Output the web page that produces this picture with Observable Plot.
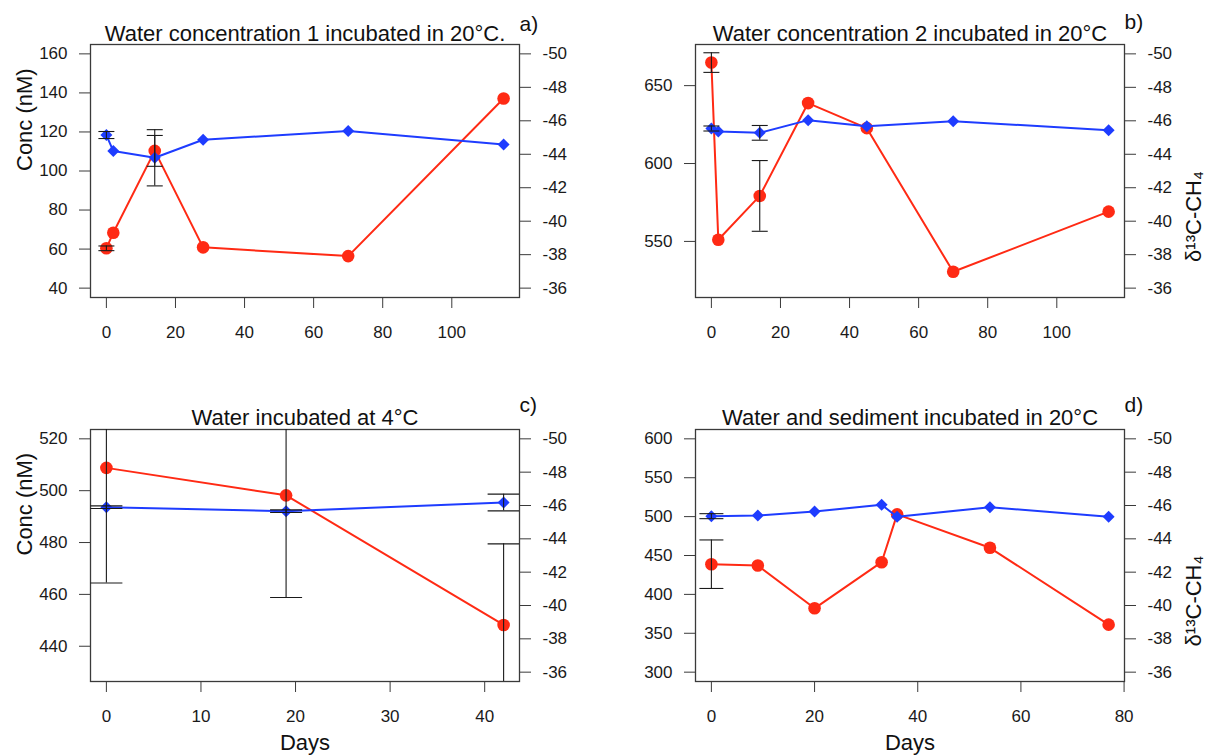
<!DOCTYPE html>
<html><head><meta charset="utf-8">
<script src="https://cdn.jsdelivr.net/npm/d3@7"></script>
<script src="https://cdn.jsdelivr.net/npm/@observablehq/plot@0.6"></script>
<style>
body{margin:0;background:#fff;}
#chart{position:relative;width:1209px;height:755px;overflow:hidden;font-family:"Liberation Sans",Arial,sans-serif;}
#chart svg{position:absolute;}
</style></head><body><div id="chart"></div>
<script>
// ---- Data ----
const titles = ["Water concentration 1 incubated in 20°C.", "Water concentration 2 incubated in 20°C", "Water incubated at 4°C", "Water and sediment incubated in 20°C"];
const panelTags = ["a)", "b)", "c)", "d)"];
const concLabel = "Conc (nM)";
const d13cLabel = "δ¹³C-CH₄";
const daysLabel = "Days";

const daysA = [0, 2, 14, 28, 70, 115];
const concA = [60.4, 68.4, 110.3, 60.9, 56.4, 137.1];
const concErrA = [1.2, null, 7.9, null, null, null];
const d13cA = [-45.15, -44.19, -43.79, -44.87, -45.39, -44.59];
const d13cErrA = [0.21, null, 1.68, null, null, null];

const daysB = [0, 2, 14, 28, 45, 70, 115];
const concB = [664.8, 551.1, 579.2, 638.8, 622.7, 530.5, 569.1];
const concErrB = [6.3, null, 22.7, null, null, null, null];
const d13cB = [-45.54, -45.36, -45.28, -46.04, -45.68, -45.98, -45.44];
const d13cErrB = [0.15, null, 0.44, null, null, null, null];

const daysC = [0, 19, 42];
const concC = [508.8, 498.2, 448.2];
const concErrC = [44.4, 39.4, 31.3];
const d13cC = [-45.9, -45.66, -46.18];
const d13cErrC = [0.08, 0.08, 0.5];

const daysD = [0, 9, 20, 33, 36, 54, 77];
const concD = [438.8, 437.1, 382.1, 441.4, 502.9, 459.9, 361.1];
const concErrD = [31.2, null, null, null, null, null, null];
const d13cD = [-45.36, -45.40, -45.64, -46.04, -45.32, -45.90, -45.32];
const d13cErrD = [0.15, null, null, null, null, null, null];

const xTicksAB = [0, 20, 40, 60, 80, 100];
const xTicksC = [0, 10, 20, 30, 40];
const xTicksD = [0, 20, 40, 60, 80];
const yTicksA = [40, 60, 80, 100, 120, 140, 160];
const yTicksB = [550, 600, 650];
const yTicksC = [440, 460, 480, 500, 520];
const yTicksD = [300, 350, 400, 450, 500, 550, 600];
const d13cTicks = [-50, -48, -46, -44, -42, -40, -38, -36];

// ---- Styling ----
const RED = "#ff2a14", BLUE = "#1e3cff", INK = "#1a1a1a";
const capSymbol = w => ({draw(ctx) { ctx.moveTo(-w, 0); ctx.lineTo(w, 0); }});

function panel(o) {
  const d13cDomain = [-35.44, -50.56];
  const toY = d3.scaleLinear().domain(d13cDomain).range(o.yDomain);
  const red = o.days.map((x, i) => ({x, y: o.conc[i], e: o.concErr[i]}));
  const blue = o.days.map((x, i) => ({x, y: toY(o.d13c[i]), e: o.d13cErr[i], v: o.d13c[i]}));
  const redErr = red.filter(d => d.e != null).map(d => ({x: d.x, y1: d.y - d.e, y2: d.y + d.e}));
  const blueErr = blue.filter(d => d.e != null).map(d => ({x: d.x, y1: toY(d.v - d.e), y2: toY(d.v + d.e)}));
  const errs = redErr.concat(blueErr);
  const cap = capSymbol(o.cap);
  const marks = [
    Plot.frame({stroke: "#3a3a3a", strokeWidth: 1.3}),
    Plot.axisX(o.xTicks, {tickSize: 11, tickPadding: 17, label: null, stroke: "#3a3a3a"}),
    Plot.axisY(o.yTicks, {anchor: "left", tickSize: 11, tickPadding: 12, label: null, stroke: "#3a3a3a"}),
    Plot.axisY(d13cTicks.map(toY), {anchor: "right", tickSize: 11, tickPadding: 12, label: null, stroke: "#3a3a3a",
      tickFormat: v => String(Math.round(toY.invert(v)))}),
    Plot.line(red, {x: "x", y: "y", stroke: RED, strokeWidth: 2}),
    Plot.dot(red, {x: "x", y: "y", r: 6.3, fill: RED}),
    Plot.line(blue, {x: "x", y: "y", stroke: BLUE, strokeWidth: 2}),
    Plot.dot(blue, {x: "x", y: "y", r: 5.4, symbol: "diamond2", fill: BLUE}),
    Plot.ruleX(errs, {x: "x", y1: "y1", y2: "y2", stroke: INK, strokeWidth: 1.1, clip: true}),
    Plot.dot(errs, {x: "x", y: "y1", symbol: cap, stroke: INK, strokeWidth: 1.1, fill: "none", clip: true}),
    Plot.dot(errs, {x: "x", y: "y2", symbol: cap, stroke: INK, strokeWidth: 1.1, fill: "none", clip: true}),
    Plot.text([o.title], {frameAnchor: "top", dy: o.titleDy, fontSize: 22, fill: "#111", lineAnchor: "middle"}),
    Plot.text([o.tag], {frameAnchor: "top-right", textAnchor: "start", dx: o.tagDx, dy: o.tagDy, fontSize: 21, fill: "#111", lineAnchor: "middle"})
  ];
  if (o.concLabel) marks.push(Plot.text([concLabel], {frameAnchor: "left", dx: -66, rotate: -90, fontSize: 22, fill: "#111", lineAnchor: "middle"}));
  if (o.d13cLabel) marks.push(Plot.text([d13cLabel], {frameAnchor: "right", dx: 69, rotate: -90, fontSize: 22, fill: "#111", lineAnchor: "middle"}));
  if (o.daysLabel) marks.push(Plot.text([daysLabel], {frameAnchor: "bottom", dy: 61, fontSize: 22, fill: "#111", lineAnchor: "middle"}));
  const svg = Plot.plot({
    width: o.width, height: o.height,
    marginLeft: o.ml, marginRight: o.mr, marginTop: o.mt, marginBottom: o.mb,
    x: {domain: o.xDomain},
    y: {domain: o.yDomain},
    style: {fontSize: "17px", fontFamily: "'Liberation Sans', Arial, sans-serif", color: INK, background: "transparent", overflow: "visible"},
    marks
  });
  svg.style.left = o.left + "px";
  svg.style.top = o.top + "px";
  document.getElementById("chart").appendChild(svg);
}

panel({left: 0, top: 0, width: 604, height: 378, ml: 90, mr: 85, mt: 44, mb: 81,
  days: daysA, conc: concA, concErr: concErrA, d13c: d13cA, d13cErr: d13cErrA,
  xDomain: [-4.6, 119.6], yDomain: [35.2, 164.8], xTicks: xTicksAB, yTicks: yTicksA, cap: 8,
  title: titles[0], tag: panelTags[0], titleDy: -11, tagDx: 0, tagDy: -20, concLabel: true});

panel({left: 604, top: 0, width: 605, height: 378, ml: 91, mr: 85, mt: 44, mb: 81,
  days: daysB, conc: concB, concErr: concErrB, d13c: d13cB, d13cErr: d13cErrB,
  xDomain: [-4.6, 119.6], yDomain: [514, 676.4], xTicks: xTicksAB, yTicks: yTicksB, cap: 8,
  title: titles[1], tag: panelTags[1], titleDy: -11, tagDx: 0, tagDy: -22, d13cLabel: true});

panel({left: 0, top: 378, width: 604, height: 377, ml: 90, mr: 85, mt: 51, mb: 74,
  days: daysC, conc: concC, concErr: concErrC, d13c: d13cC, d13cErr: d13cErrC,
  xDomain: [-1.68, 43.68], yDomain: [426.4, 523.6], xTicks: xTicksC, yTicks: yTicksC, cap: 16,
  title: titles[2], tag: panelTags[2], titleDy: -12, tagDx: 0, tagDy: -24, concLabel: true, daysLabel: true});

panel({left: 604, top: 378, width: 605, height: 377, ml: 91, mr: 85, mt: 51, mb: 74,
  days: daysD, conc: concD, concErr: concErrD, d13c: d13cD, d13cErr: d13cErrD,
  xDomain: [-3.08, 80.08], yDomain: [288, 612], xTicks: xTicksD, yTicks: yTicksD, cap: 12,
  title: titles[3], tag: panelTags[3], titleDy: -12, tagDx: 0, tagDy: -24, d13cLabel: true, daysLabel: true});
</script></body></html>
